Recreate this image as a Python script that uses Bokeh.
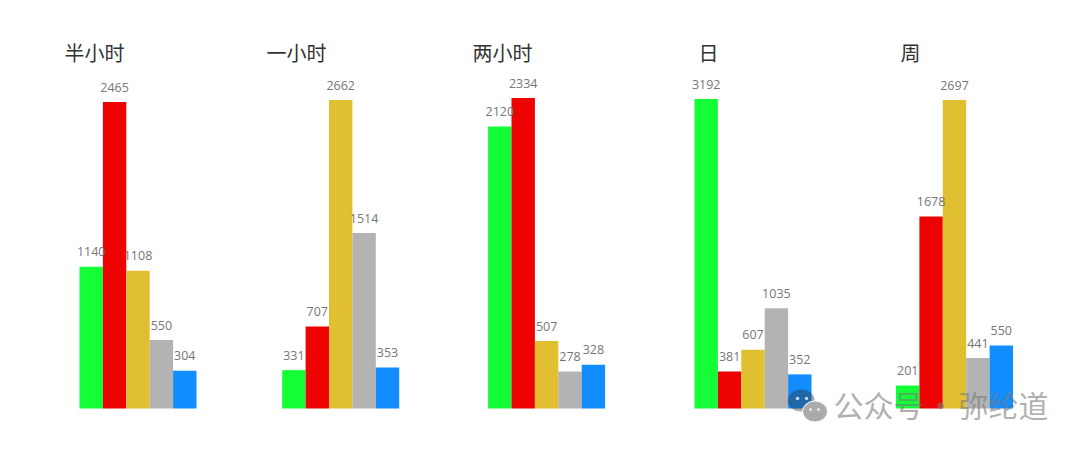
from bokeh.plotting import figure
from bokeh.models import Range1d, Label
from bokeh.core.properties import value
from bokeh.embed import file_html
from bokeh.resources import INLINE

panels = ["半小时", "一小时", "两小时", "日", "周"]
series_colors = ["#12FF38", "#EE0303", "#E0C030", "#B3B3B3", "#118DFF"]
half_hour = [1140, 2465, 1108, 550, 304]
one_hour = [331, 707, 2662, 1514, 353]
two_hours = [2120, 2334, 507, 278, 328]
day = [3192, 381, 607, 1035, 352]
week = [201, 1678, 2697, 441, 550]
all_values = [half_hour, one_hour, two_hours, day, week]

# layout (page pixels)
W, H = 1064, 433
BASE = 408
BAR = 23.4
panel_left = [79, 281.7, 487.6, 694, 895.5]
panel_top = [101.5, 99.5, 97.5, 98.5, 99.5]   # top pixel of each panel's tallest bar
title_x = [64, 266, 472, 698, 900]

p = figure(width=W, height=H, output_backend="svg", toolbar_location=None,
           x_range=Range1d(0, W), y_range=Range1d(0, H),
           min_border=0, min_border_left=0, min_border_right=0,
           min_border_top=0, min_border_bottom=0, outline_line_color=None)
p.axis.visible = False
p.grid.visible = False
p.background_fill_color = "white"
p.border_fill_color = "white"

for i, vals in enumerate(all_values):
    k = (BASE - panel_top[i]) / max(vals)
    name = f"panel{i}"
    p.extra_y_ranges[name] = Range1d(-(H - BASE) / k, BASE / k)
    xs = [panel_left[i] + (j + 0.5) * BAR for j in range(5)]
    p.vbar(x=xs, top=vals, bottom=0, width=BAR, fill_color=series_colors,
           line_color=None, y_range_name=name)
    p.text(x=xs, y=vals, text=[str(v) for v in vals], y_range_name=name,
           text_align="center", text_baseline="alphabetic", y_offset=-15,
           text_font=value("Open Sans"), text_font_size="12.5px", text_color="#767676")
    p.add_layout(Label(x=title_x[i], y=H - 52, x_units="screen", y_units="screen",
                       text=panels[i], text_font="Noto Sans CJK SC", text_font_size="20px",
                       text_color="#333333", text_baseline="alphabetic"))

# watermark
wm_y = lambda py: H - py
p.ellipse(x=[800.7], y=[wm_y(400)], width=27, height=22, fill_color="#333333",
          fill_alpha=0.42, line_color=None)
p.ellipse(x=[814.5], y=[wm_y(411)], width=25, height=21, fill_color="#ababab",
          fill_alpha=1, line_color="white", line_width=1)
p.scatter(x=[797, 806, 810, 818],
          y=[wm_y(398), wm_y(398), wm_y(409), wm_y(409)], size=[3.5, 3.5, 3, 3],
          fill_color="white", line_color=None, alpha=0.75)
for txt, x in [("公众号", 833), ("·", 925), ("弥纶道", 958)]:
    p.add_layout(Label(x=x, y=H - 403, x_units="screen", y_units="screen",
                       text=txt, text_font="Noto Sans CJK SC", text_font_size="30px",
                       text_color="#7a7a7a", text_alpha=0.6, text_baseline="alphabetic"))

open("out.html", "w").write(file_html(p, INLINE))
